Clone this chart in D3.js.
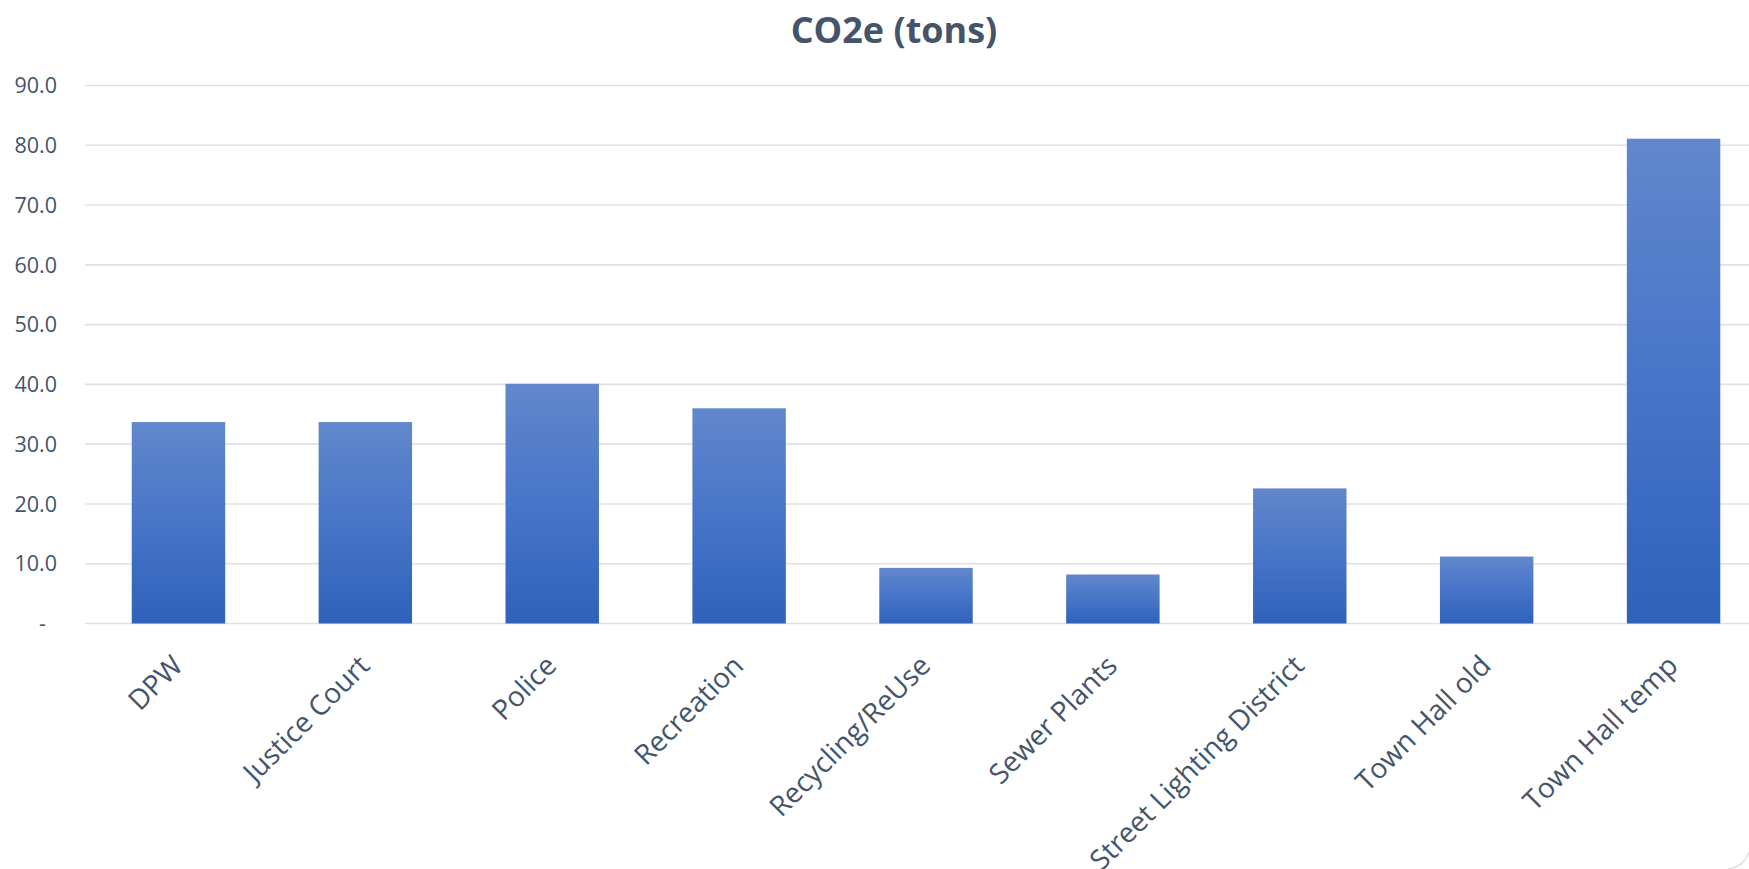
<!DOCTYPE html>
<html>
<head>
<meta charset="utf-8">
<script src="https://cdn.jsdelivr.net/npm/d3@7"></script>
<style>
  html, body { margin: 0; padding: 0; background: #fff; }
  svg { display: block; }
  text { font-family: "Open Sans", "Liberation Sans", sans-serif; fill: #44546A; }
</style>
</head>
<body>
<svg id="chart" width="1749" height="869"></svg>
<script>
const categories = ["DPW", "Justice Court", "Police", "Recreation", "Recycling/ReUse",
  "Sewer Plants", "Street Lighting District", "Town Hall old", "Town Hall temp"];
const values = [33.7, 33.7, 40.1, 36.0, 9.3, 8.2, 22.6, 11.2, 81.1];
const yTicks = [0, 10, 20, 30, 40, 50, 60, 70, 80, 90];
const title = "CO2e (tons)";

const W = 1749, H = 869;
const svg = d3.select("#chart");

const x = d3.scaleBand().domain(categories).range([85, 1767])
  .paddingInner(0.5).paddingOuter(0.25);
const y = d3.scaleLinear().domain([0, 90]).range([623.5, 85.5]);

const defs = svg.append("defs");
const grad = defs.append("linearGradient").attr("id", "barGrad")
  .attr("x1", 0).attr("y1", 0).attr("x2", 0).attr("y2", 1);
grad.append("stop").attr("offset", "0%").attr("stop-color", "#6287CC");
grad.append("stop").attr("offset", "50%").attr("stop-color", "#4775C8");
grad.append("stop").attr("offset", "100%").attr("stop-color", "#2F62BA");

// gridlines
svg.append("g").selectAll("line").data(yTicks).join("line")
  .attr("x1", 85).attr("x2", W)
  .attr("y1", d => y(d)).attr("y2", d => y(d))
  .attr("stroke", "#DEE2E8").attr("stroke-width", 1.6);

// y labels
svg.append("g").selectAll("text").data(yTicks).join("text")
  .attr("x", d => d === 0 ? 46 : 57)
  .attr("y", d => y(d))
  .attr("dy", "0.36em")
  .attr("text-anchor", "end")
  .attr("font-size", 21.5)
  .text(d => d === 0 ? "-" : d3.format(".1f")(d));

// bars
svg.append("g").selectAll("rect").data(values).join("rect")
  .attr("x", (d, i) => x(categories[i]))
  .attr("width", x.bandwidth())
  .attr("y", d => y(d))
  .attr("height", d => y(0) - y(d))
  .attr("fill", "url(#barGrad)");

// x labels
svg.append("g").selectAll("text").data(categories).join("text")
  .attr("text-anchor", "end")
  .attr("font-size", 28)
  .attr("transform", d => `translate(${x(d) + x.bandwidth() / 2 + 6},${y(0) + 44}) rotate(-45)`)
  .text(d => d);

// title
svg.append("text")
  .attr("x", 894).attr("y", 43)
  .attr("text-anchor", "middle")
  .attr("font-size", 36)
  .attr("font-weight", "bold")
  .text(title);

// chart border corner
svg.append("path")
  .attr("d", "M1749,852 Q1745,866 1728,869")
  .attr("fill", "none").attr("stroke", "#D9D9D9").attr("stroke-width", 1.2);
</script>
</body>
</html>
